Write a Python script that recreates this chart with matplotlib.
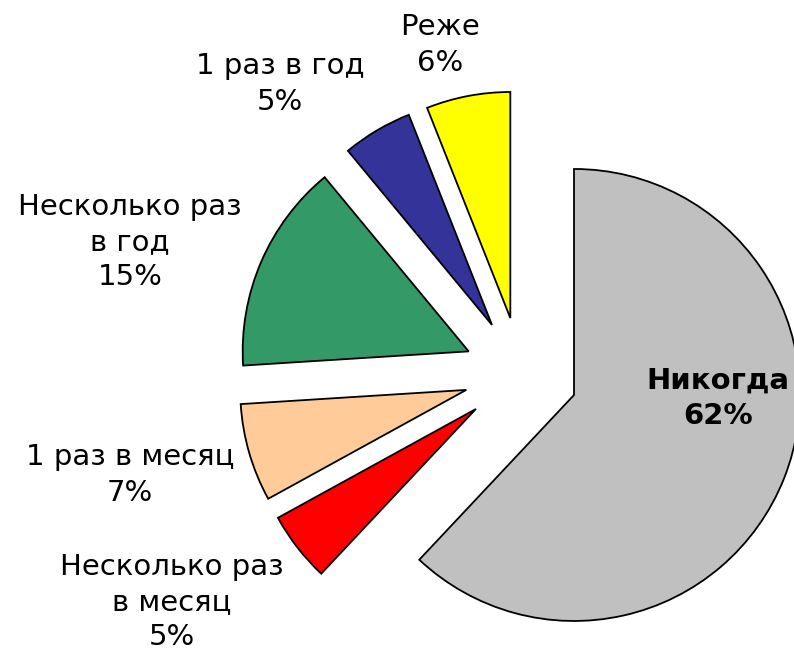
import matplotlib
matplotlib.use("Agg")
import matplotlib.pyplot as plt

categories = ["Никогда", "Несколько раз\nв месяц", "1 раз в месяц",
              "Несколько раз\nв год", "1 раз в год", "Реже"]
values = [62, 5, 7, 15, 5, 6]
colors = ["#C0C0C0", "#FF0000", "#FFCC99", "#339966", "#333399", "#FFFF00"]

W, H = 794, 653
fig = plt.figure(figsize=(W / 100, H / 100), dpi=100)
ax = fig.add_axes([0, 0, 1, 1])

cx, cy, r = 521, H - 374, 226
wedges, _ = ax.pie(values, colors=colors, startangle=90, counterclock=False,
                   explode=[57] * len(values), radius=r, center=(cx, cy),
                   wedgeprops=dict(edgecolor="black", linewidth=1.3),
                   frame=True)
ax.set_xlim(0, W)
ax.set_ylim(0, H)
ax.set_aspect("equal")
ax.axis("off")

label_pos = [(718, 398), (172, 602), (130, 475), (130, 242), (280, 84), (440, 45)]
for i, (cat, v) in enumerate(zip(categories, values)):
    x, y = label_pos[i]
    ax.text(x, H - y, f"{cat}\n{v}%", ha="center", va="center",
            fontsize=21, family="DejaVu Sans", linespacing=1.34,
            fontweight="bold" if i == 0 else "normal")

fig.savefig("out.png", dpi=100)
